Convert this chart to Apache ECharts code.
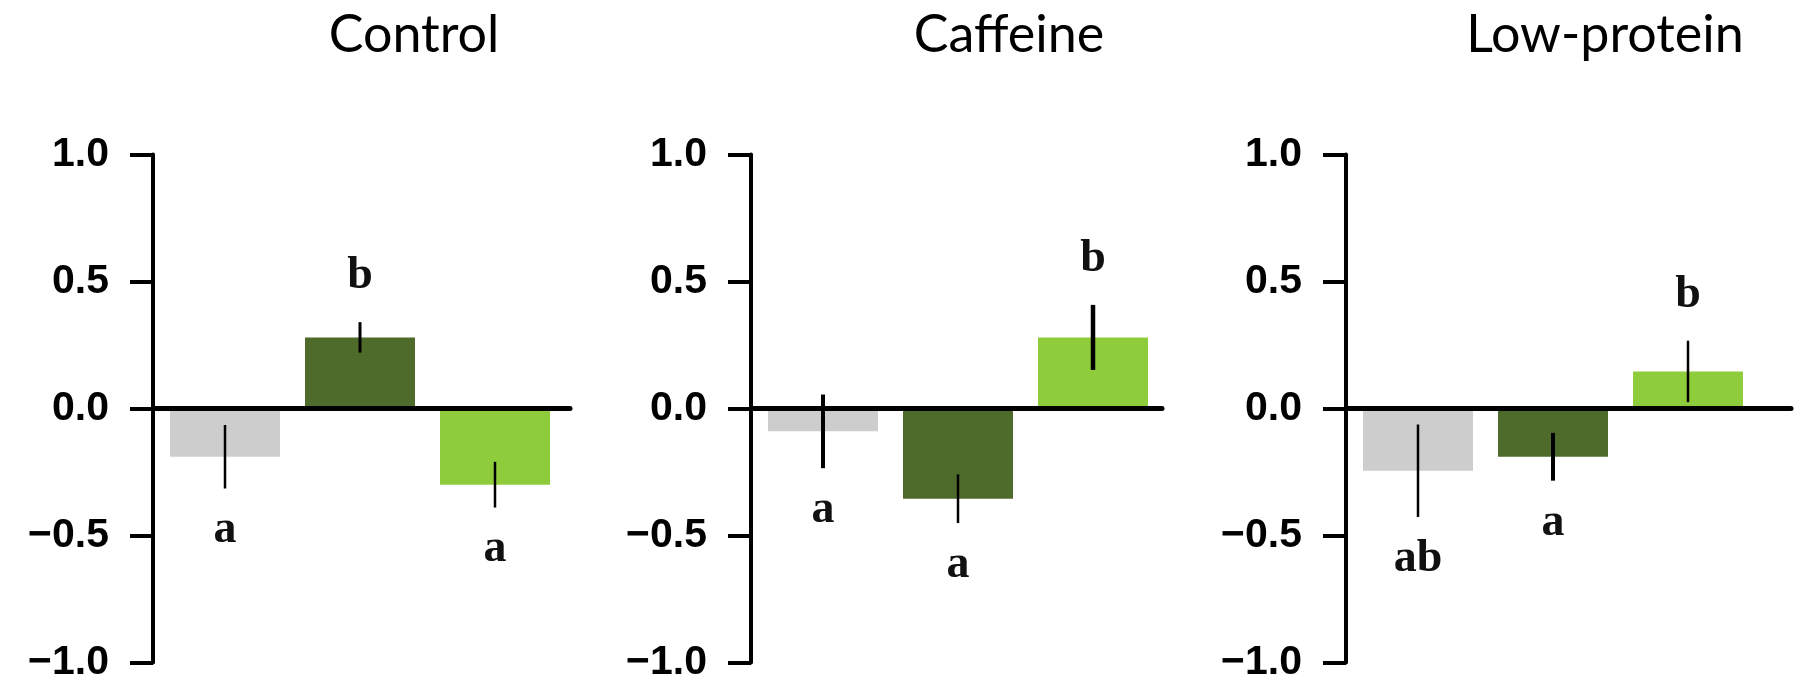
<!DOCTYPE html>
<html>
<head>
<meta charset="utf-8">
<script src="https://cdn.jsdelivr.net/npm/echarts@6/dist/echarts.min.js"></script>
<style>
html,body{margin:0;padding:0;background:#ffffff;}
#c{width:1804px;height:687px;}
</style>
</head>
<body>
<div id="c"></div>
<script>
// ---- data ----
const panelTitles = ['Control', 'Caffeine', 'Low-protein'];
const groupColors = ['#cdcdcd', '#4e6b2c', '#8fcc3c'];
const controlMeans = [-0.19, 0.28, -0.30];
const controlErr = [0.125, 0.06, 0.09];
const controlLetters = ['a', 'b', 'a'];
const caffeineMeans = [-0.09, -0.355, 0.28];
const caffeineErr = [0.145, 0.096, 0.128];
const caffeineLetters = ['a', 'a', 'b'];
const lowProteinMeans = [-0.245, -0.19, 0.146];
const lowProteinErr = [0.182, 0.094, 0.121];
const lowProteinLetters = ['ab', 'a', 'b'];
const yTickMin = -1.0, yTickMax = 1.0, yTickStep = 0.5;

// ---- layout ----
const panels = [
  {title: panelTitles[0], means: controlMeans, err: controlErr, letters: controlLetters},
  {title: panelTitles[1], means: caffeineMeans, err: caffeineErr, letters: caffeineLetters},
  {title: panelTitles[2], means: lowProteinMeans, err: lowProteinErr, letters: lowProteinLetters}
];
const axisX = [153, 751, 1346];
const endX = [570, 1162, 1791];
const titleX = [414, 1009, 1605];
const errLineW = [[2.5, 3, 2.5], [4, 2.5, 4.5], [2.5, 4, 2.5]];
const firstOffset = 72, step = 135, barW = 110;
const gridTop = 154.5, gridH = 508;

const chart = echarts.init(document.getElementById('c'), null, {renderer: 'canvas'});

const grid = [], xAxis = [], yAxis = [], series = [], graphic = [];
panels.forEach((p, k) => {
  grid.push({left: axisX[k], top: gridTop, width: endX[k] - axisX[k], height: gridH, containLabel: false});
  xAxis.push({
    type: 'value', gridIndex: k,
    min: -firstOffset / step,
    max: (endX[k] - axisX[k] - firstOffset) / step,
    axisLine: {show: true, onZero: true, lineStyle: {color: '#000', width: 5}},
    axisTick: {show: false}, axisLabel: {show: false}, splitLine: {show: false},
    z: 3
  });
  yAxis.push({
    type: 'value', gridIndex: k, min: yTickMin, max: yTickMax, interval: yTickStep,
    axisLine: {show: true, onZero: false, lineStyle: {color: '#000', width: 4}},
    axisTick: {show: true, length: 23, lineStyle: {color: '#000', width: 4}},
    axisLabel: {
      show: true, margin: 44, color: '#000',
      fontFamily: 'Liberation Sans', fontWeight: 'bold', fontSize: 41,
      formatter: v => (v < 0 ? '\u2212' : '') + Math.abs(v).toFixed(1)
    },
    splitLine: {show: false}
  });
  series.push({
    type: 'bar', xAxisIndex: k, yAxisIndex: k,
    barWidth: barW,
    data: p.means.map((v, i) => [i, v]),
    itemStyle: {color: params => groupColors[params.dataIndex]},
    z: 2, silent: true, animation: false
  });
  const letters = p.letters;
  series.push({
    type: 'custom', xAxisIndex: k, yAxisIndex: k,
    data: p.means.map((v, i) => [i, v, p.err[i]]),
    encode: {x: 0, y: 1},
    z: 10, silent: true, animation: false,
    renderItem: (params, api) => {
      const x = api.value(0), m = api.value(1), e = api.value(2);
      const hi = api.coord([x, m + e]);
      const lo = api.coord([x, m - e]);
      const up = m >= 0;
      const ty = up ? hi[1] - 46 : lo[1] + 42;
      return {
        type: 'group',
        children: [
          {type: 'line', shape: {x1: hi[0], y1: hi[1], x2: lo[0], y2: lo[1]},
           style: {stroke: '#000', lineWidth: errLineW[k][params.dataIndex]}},
          {type: 'text', x: hi[0], y: ty,
           style: {text: letters[params.dataIndex], fill: '#111',
                   font: 'bold 46px "Liberation Serif"',
                   align: 'center', verticalAlign: 'middle'}}
        ]
      };
    }
  });
  graphic.push({
    type: 'text', x: titleX[k], y: 35,
    style: {text: p.title, fill: '#000', font: '52px Lato',
            align: 'center', verticalAlign: 'middle',
            textAlign: 'center', textVerticalAlign: 'middle'}
  });
});

chart.setOption({
  backgroundColor: '#ffffff',
  animation: false,
  grid, xAxis, yAxis, series, graphic
});
</script>
</body>
</html>
